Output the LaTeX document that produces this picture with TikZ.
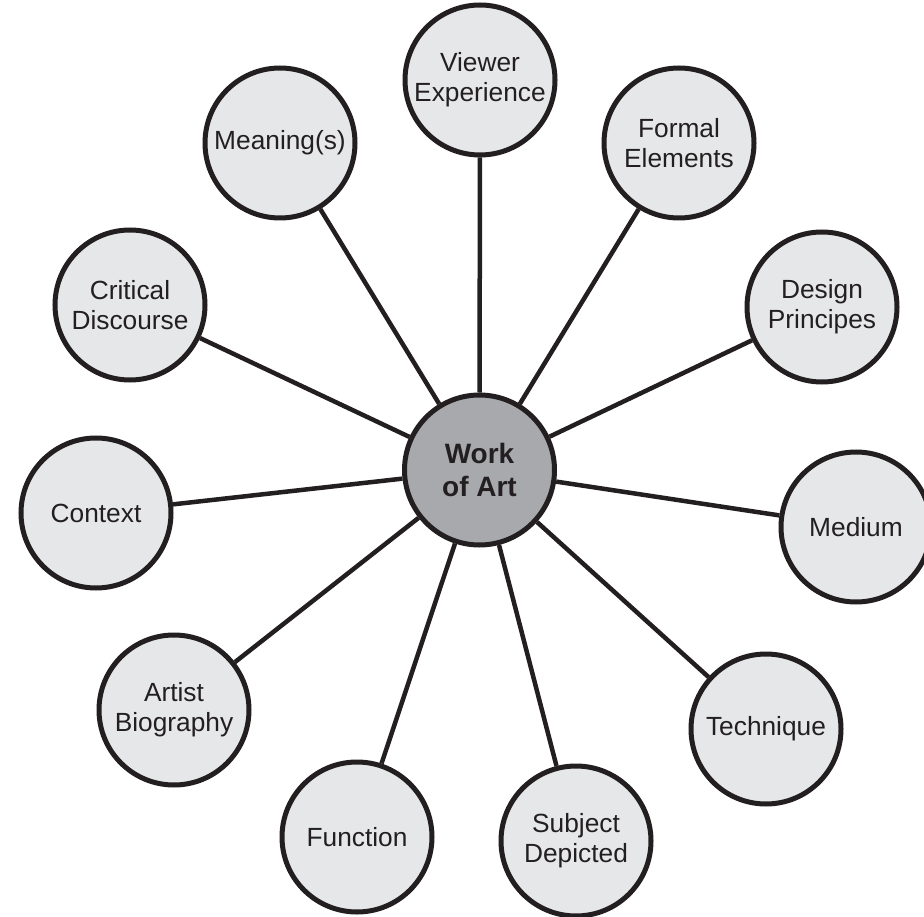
\documentclass[tikz,border=0pt]{standalone}
\usepackage{fontspec}
\setmainfont{Liberation Sans}
\definecolor{inkc}{HTML}{231F20}
\definecolor{outerfill}{HTML}{E6E7E8}
\definecolor{centerfill}{HTML}{A7A9AC}
\tikzset{
  topic/.style={circle, draw=inkc, line width=5pt, fill=outerfill, minimum size=150pt,
    inner sep=0pt, align=center, text=inkc, font=\fontsize{26.3}{30}\selectfont},
  hub/.style={circle, draw=inkc, line width=5pt, fill=centerfill, minimum size=150pt,
    inner sep=0pt, align=center, text=inkc, font=\fontsize{28}{33.5}\selectfont\bfseries},
  spoke/.style={draw=inkc, line width=4.5pt}
}
\begin{document}
\begin{tikzpicture}[x=1pt,y=-1pt]
\useasboundingbox (0,0) rectangle (924,917);
\node[hub] (c) at (479.5,470) {Work\\of Art};
\node[topic] (viewer) at (480,80) {Viewer\\Experience};
\node[topic] (formal) at (679,143) {Formal\\Elements};
\node[topic] (design) at (822,307) {Design\\Principes};
\node[topic] (medium) at (856,527) {Medium};
\node[topic] (technique) at (766,729) {Technique};
\node[topic] (subject) at (576,841) {Subject\\Depicted};
\node[topic] (function) at (357,837) {Function};
\node[topic] (artist) at (174,710) {Artist\\Biography};
\node[topic] (context) at (96,513) {Context};
\node[topic] (critical) at (130,305) {Critical\\Discourse};
\node[topic] (meaning) at (280,143) {Meaning(s)};
\foreach \n in {viewer,formal,design,medium,technique,subject,function,artist,context,critical,meaning}
  \draw[spoke] (c) -- (\n);
\end{tikzpicture}
\end{document}
